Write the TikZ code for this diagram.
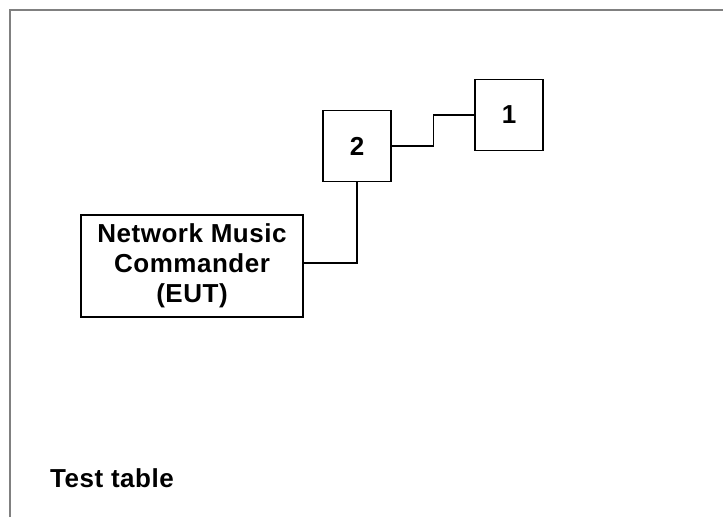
\documentclass[tikz,border=0pt]{standalone}
\usepackage{fontspec}
\setmainfont{Liberation Sans}[LetterSpace = 2]
\usetikzlibrary{positioning}

\begin{document}
\begin{tikzpicture}[x = 1pt, y = -1pt,
  box/.style = {draw, line width = 1.3pt, inner sep = 0pt, align = center,
    font = \bfseries\fontsize{26}{30}\selectfont},
  wire/.style = {line width = 1.4pt}]
\useasboundingbox (0, 0) rectangle (723, 517);
\draw[line width = 1.6pt, gray] (10, 517) -- (10, 10) -- (723, 10);

\node[box, minimum width = 222, minimum height = 102] (eut) at (192, 266) {Network Music\\Commander\\(EUT)};
\node[box, minimum width = 68, minimum height = 71] (two) at (357, 146) {2};
\node[box, minimum width = 68, minimum height = 71] (one) at (509, 115) {1};

\draw[wire] (two.east) -- ++(42, 0) |- (one.west);
\draw[wire] (two.south) |- ([yshift = 3pt]eut.east);

\node[anchor = base west, inner sep = 0pt, font = \bfseries\fontsize{26}{30}\selectfont] (title) at (50, 487) {Test table};
\end{tikzpicture}
\end{document}
